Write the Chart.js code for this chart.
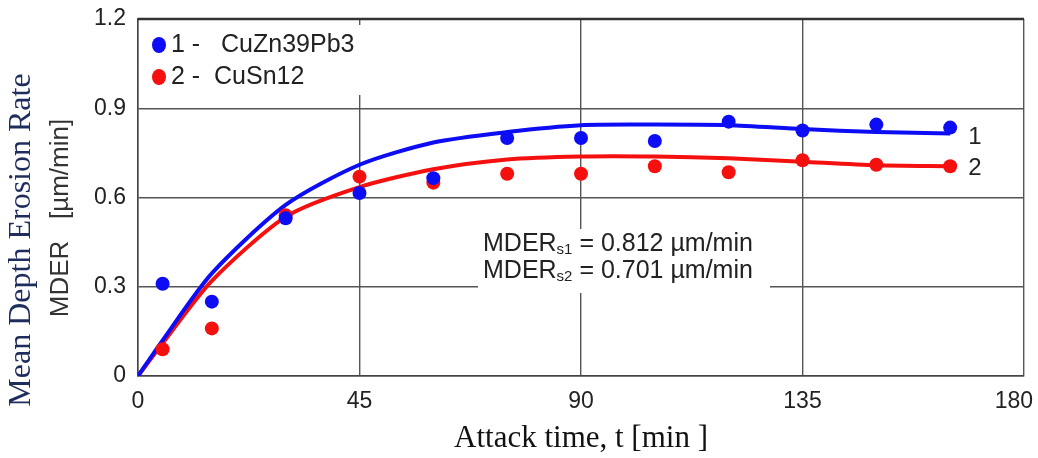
<!DOCTYPE html>
<html>
<head>
<meta charset="utf-8">
<script src="https://cdn.jsdelivr.net/npm/chart.js@4"></script>
<style>
  html, body { margin: 0; padding: 0; background: #fff; }
  #wrap { width: 1038px; height: 458px; }
</style>
</head>
<body>
<div id="wrap"><canvas id="erosionChart" width="1038" height="458"></canvas></div>
<script>
// measured points
const times = [5, 15, 30, 45, 60, 75, 90, 105, 120, 135, 150, 165];
const cuZnPoints = [0.31, 0.25, 0.53, 0.615, 0.665, 0.80, 0.80, 0.79, 0.855, 0.825, 0.845, 0.835];
const cuSnPoints = [0.09, 0.16, 0.54, 0.67, 0.65, 0.68, 0.68, 0.705, 0.685, 0.725, 0.71, 0.705];

// fitted curves
const fitTimes = [0, 5, 15, 30, 45, 60, 75, 90, 105, 120, 135, 150, 165];
const cuZnFit = [0, 0.12, 0.345, 0.575, 0.71, 0.785, 0.82, 0.843, 0.845, 0.843, 0.83, 0.82, 0.815];
const cuSnFit = [0, 0.11, 0.32, 0.535, 0.635, 0.695, 0.728, 0.738, 0.738, 0.732, 0.72, 0.708, 0.705];

const seriesNames = ['1 -   CuZn39Pb3', '2 -  CuSn12'];
const curveNames = ['1', '2'];
const steadyLines = [['MDER', 's1', ' = 0.812 µm/min'], ['MDER', 's2', ' = 0.701 µm/min']];

const xTicks = [0, 45, 90, 135, 180];
const yTicks = [0, 0.3, 0.6, 0.9, 1.2];

const BLUE = '#0c0cf5';
const RED = '#f51010';
const SANS = "'Liberation Sans', Arial, sans-serif";
const SERIF = "'Liberation Serif', 'Times New Roman', serif";
const TICK_FONT = '23px ' + SANS;

function pts(xs, ys) {
  return xs.map((x, i) => ({ x: x, y: ys[i] }));
}

// legend box, curve labels, steady-state note and y titles
const extras = {
  id: 'extras',
  afterDraw(chart) {
    const ctx = chart.ctx;
    const xs = chart.scales.x, ys = chart.scales.y;
    ctx.save();

    // last x tick label sits inside the canvas
    const lastX = xTicks[xTicks.length - 1];
    ctx.font = TICK_FONT;
    ctx.fillStyle = '#222';
    ctx.textAlign = 'right';
    ctx.textBaseline = 'middle';
    ctx.fillText(String(lastX), 1033, 402);
    ctx.textAlign = 'left';

    // legend
    ctx.fillStyle = '#fff';
    ctx.fillRect(141, 25, 224, 70);
    const legendColors = [BLUE, RED];
    ctx.font = '25px ' + SANS;
    seriesNames.forEach((name, i) => {
      const cy = 45 + i * 32;
      ctx.fillStyle = legendColors[i];
      ctx.beginPath();
      ctx.ellipse(159, cy, 7, 8, 0, 0, Math.PI * 2);
      ctx.fill();
      ctx.fillStyle = '#222';
      ctx.fillText(name, 171, cy);
    });

    // curve numbers at the right end
    const lastT = fitTimes[fitTimes.length - 1];
    ctx.font = '24px ' + SANS;
    ctx.fillStyle = '#222';
    ctx.fillText(curveNames[0], xs.getPixelForValue(lastT) + 18, ys.getPixelForValue(cuZnFit[cuZnFit.length - 1]) + 4);
    ctx.fillText(curveNames[1], xs.getPixelForValue(lastT) + 18, ys.getPixelForValue(cuSnFit[cuSnFit.length - 1]) + 2);

    // steady-state note
    ctx.fillStyle = '#fff';
    ctx.fillRect(478, 229, 292, 64);
    ctx.fillStyle = '#222';
    ctx.textBaseline = 'alphabetic';
    steadyLines.forEach((parts, i) => {
      const base = 251 + i * 27;
      let x = 483;
      ctx.font = '25px ' + SANS;
      ctx.fillText(parts[0], x, base);
      x += ctx.measureText(parts[0]).width;
      ctx.font = '15px ' + SANS;
      ctx.fillText(parts[1], x, base + 3);
      x += ctx.measureText(parts[1]).width;
      ctx.font = '25px ' + SANS;
      ctx.fillText(parts[2], x, base);
    });

    // y titles (two lines, different fonts)
    ctx.textAlign = 'center';
    ctx.textBaseline = 'middle';
    ctx.save();
    ctx.translate(22, 240);
    ctx.rotate(-Math.PI / 2);
    ctx.font = '32px ' + SERIF;
    ctx.fillStyle = '#1f2d5c';
    ctx.fillText('Mean Depth Erosion Rate', 0, 0);
    ctx.restore();
    ctx.save();
    ctx.translate(61, 218);
    ctx.rotate(-Math.PI / 2);
    ctx.font = '26px ' + SANS;
    ctx.fillStyle = '#333';
    ctx.fillText('MDER   [µm/min]', 0, 0);
    ctx.restore();

    // heavier frame on top
    const a = chart.chartArea;
    ctx.strokeStyle = '#333';
    ctx.lineWidth = 2.5;
    ctx.beginPath();
    ctx.moveTo(a.left, a.top);
    ctx.lineTo(a.right, a.top);
    ctx.stroke();

    ctx.restore();
  }
};

const ctx = document.getElementById('erosionChart').getContext('2d');
const erosionChart = new Chart(ctx, {
  type: 'scatter',
  data: {
    datasets: [
      {
        label: seriesNames[0],
        data: pts(times, cuZnPoints),
        backgroundColor: BLUE,
        borderWidth: 0,
        pointRadius: 7,
        pointHoverRadius: 7,
        showLine: false,
        order: 0
      },
      {
        label: seriesNames[1],
        data: pts(times, cuSnPoints),
        backgroundColor: RED,
        borderWidth: 0,
        pointRadius: 7,
        pointHoverRadius: 7,
        showLine: false,
        order: 0
      },
      {
        label: 'fit 1',
        data: pts(fitTimes, cuZnFit),
        borderColor: BLUE,
        borderWidth: 4,
        pointRadius: 0,
        showLine: true,
        tension: 0.25,
        order: 1
      },
      {
        label: 'fit 2',
        data: pts(fitTimes, cuSnFit),
        borderColor: RED,
        borderWidth: 4,
        pointRadius: 0,
        showLine: true,
        tension: 0.25,
        order: 2
      }
    ]
  },
  options: {
    responsive: false,
    animation: false,
    layout: { padding: { top: 19, right: 14, left: 0, bottom: 0 } },
    plugins: {
      legend: { display: false },
      tooltip: { enabled: false }
    },
    scales: {
      x: {
        type: 'linear',
        min: xTicks[0],
        max: xTicks[xTicks.length - 1],
        afterBuildTicks: (s) => { s.ticks = xTicks.map(v => ({ value: v })); },
        ticks: {
          font: { size: 23, family: SANS },
          color: '#222',
          padding: 12,
          maxRotation: 0,
          // the last label is drawn right-aligned by the plugin
          callback: (v) => (v === xTicks[xTicks.length - 1] ? '' : String(v))
        },
        grid: { color: '#555', lineWidth: 1.4, drawTicks: false },
        border: { color: '#444', width: 1.5 },
        title: {
          display: true,
          text: 'Attack time, t [min ]',
          font: { size: 31, family: SERIF },
          color: '#111',
          padding: { top: 0, bottom: 1 }
        },
        afterFit: (s) => { s.height = 82; s.paddingLeft = 0; s.paddingRight = 0; }
      },
      y: {
        min: yTicks[0],
        max: yTicks[yTicks.length - 1],
        afterBuildTicks: (s) => { s.ticks = yTicks.map(v => ({ value: v })); },
        ticks: { font: { size: 23, family: SANS }, color: '#222', padding: 12 },
        grid: { color: '#555', lineWidth: 1.4, drawTicks: false },
        border: { color: '#444', width: 1.5 },
        afterFit: (s) => { s.width = 138; s.paddingTop = 0; s.paddingBottom = 0; }
      }
    }
  },
  plugins: [extras]
});
</script>
</body>
</html>
